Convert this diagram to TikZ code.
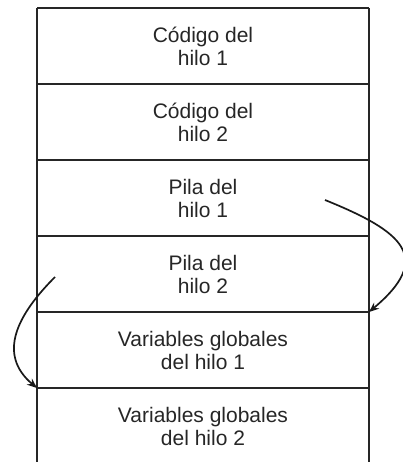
\documentclass[tikz,border=0pt]{standalone}
\usepackage{fontspec}
\setmainfont{Liberation Sans}
\usetikzlibrary{positioning,arrows.meta}

\begin{document}
\begin{tikzpicture}[
    x=1pt, y=1pt,
    font=\fontsize{21}{23}\selectfont,
    >={Stealth[length=10pt,width=8pt]},
    celda/.style={minimum width=332pt, minimum height=76pt, inner sep=0pt, outer sep=0pt,
        align=center, text=black!85},
    borde/.style={draw=black!85, line width=1.8pt},
    salto/.style={->, draw=black!90, line width=1.7pt},
]
\useasboundingbox (0,0) rectangle (402,462);

% ---- Celdas del espacio de direcciones -----------------------------
\node[celda] (cod1) at (203,416) {Código del\\hilo 1};
\node[celda, below=0pt of cod1] (cod2) {Código del\\hilo 2};
\node[celda, below=0pt of cod2] (pila1) {Pila del\\hilo 1};
\node[celda, below=0pt of pila1] (pila2) {Pila del\\hilo 2};
\node[celda, below=0pt of pila2] (var1) {Variables globales\\del hilo 1};
\node[celda, below=0pt of var1] (var2) {Variables globales\\del hilo 2};

% ---- Bordes (abajo abierto) ----------------------------------------
\draw[borde] (cod1.north west) -- (cod1.north east);
\foreach \c in {cod1,cod2,pila1,pila2,var1}
    \draw[borde] (\c.south west) -- (\c.south east);
\draw[borde] (cod1.north west) -- (var2.south west);
\draw[borde] (cod1.north east) -- (var2.south east);

% ---- Crecimiento de las pilas --------------------------------------
\coordinate (ini1) at (325,262);
\coordinate (ini2) at (55,185);
\draw[salto] (ini1) to[out=-22,in=40,looseness=1.8] (pila2.south east);
\draw[salto] (ini2) to[out=-135,in=140,looseness=1.2] (var1.south west);

\end{tikzpicture}
\end{document}
